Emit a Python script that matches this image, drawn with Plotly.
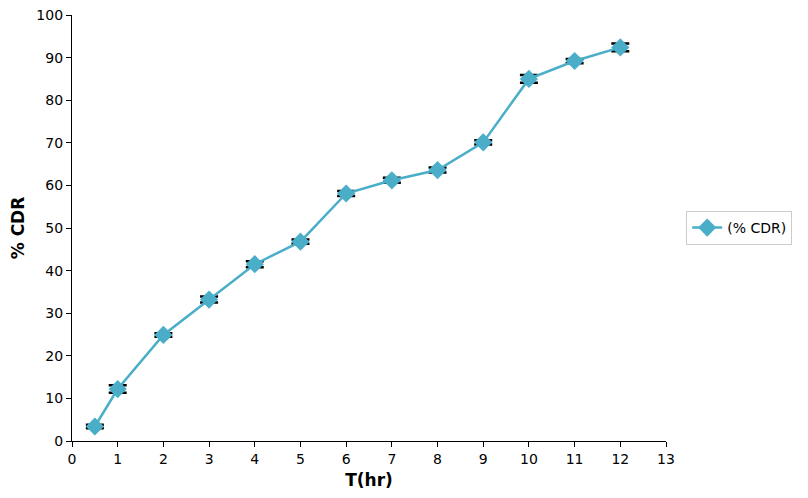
import plotly.graph_objects as go

time_hr = [0.5, 1, 2, 3, 4, 5, 6, 7, 8, 9, 10, 11, 12]
cdr = [3.4, 12.2, 24.9, 33.2, 41.5, 46.8, 58.1, 61.2, 63.6, 70.1, 85.0, 89.2, 92.4]
cdr_err = [0.4, 0.9, 0.4, 0.7, 0.7, 0.5, 0.6, 0.6, 0.6, 0.5, 0.9, 0.5, 0.9]
x_ticks = list(range(0, 14))
y_ticks = list(range(0, 101, 10))

fig = go.Figure()
fig.add_trace(go.Scatter(
    x=time_hr, y=cdr, mode="lines+markers", name="(% CDR)",
    line=dict(color="#4aaec8", width=2.5),
    marker=dict(symbol="diamond", size=14, color="#4aaec8"),
    error_y=dict(type="data", array=cdr_err, visible=True, color="black",
                 thickness=2.5, width=9),
))

axis_common = dict(
    showgrid=False, zeroline=False, showline=True, linecolor="black", linewidth=1.2,
    ticks="outside", ticklen=5, tickcolor="black", automargin=False,
    ticklabeloverflow="allow",
    tickfont=dict(family="DejaVu Sans", size=14, color="black"),
)
fig.update_layout(
    width=808, height=498,
    margin=dict(l=64, r=150, t=7, b=65, autoexpand=False),
    plot_bgcolor="white", paper_bgcolor="white",
    xaxis=dict(range=[0, 13], tickvals=x_ticks,
               title=dict(text="<b>T(hr)</b>", font=dict(family="DejaVu Sans", size=17, color="black"), standoff=8),
               **axis_common),
    yaxis=dict(range=[0, 100], tickvals=y_ticks,
               title=dict(text="<b>% CDR</b>", font=dict(family="DejaVu Sans", size=17, color="black"), standoff=10),
               **axis_common),
    showlegend=True,
    legend=dict(x=1.034, y=0.5, xanchor="left", yanchor="middle",
                bordercolor="#cccccc", borderwidth=1,
                font=dict(family="DejaVu Sans", size=14, color="black")),
)
fig.write_html("out.html")
